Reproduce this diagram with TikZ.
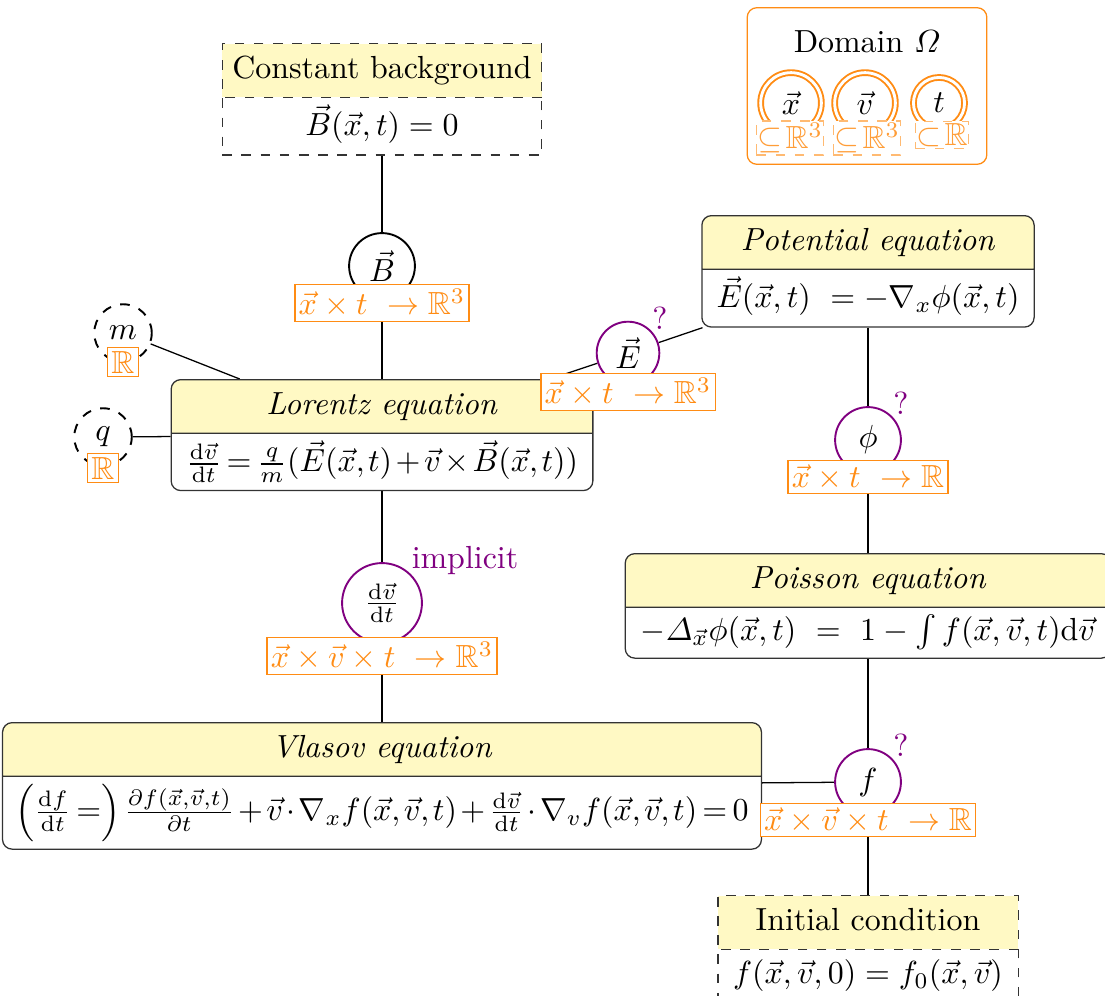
\documentclass[tikz,border=0pt]{standalone}
\usepackage{amsmath,amssymb}
\usetikzlibrary{shapes.multipart,backgrounds}
\definecolor{headyellow}{RGB}{255,249,196}
\definecolor{domorange}{RGB}{255,140,20}
\definecolor{varpurple}{RGB}{128,0,128}
\begin{document}
\begin{tikzpicture}[x=0.011cm,y=-0.011cm,
        eqbox/.style={rectangle split,rectangle split parts=2,draw=black!80,thin,
            rectangle split part fill={headyellow,white},rounded corners=3pt,
            inner xsep=4pt,inner ysep=2.2pt,anchor=north},
        tighteq/.style={execute at begin node={\medmuskip=2mu\thickmuskip=3mu\thinmuskip=2mu}},
        condbox/.style={eqbox,dashed,rounded corners=0pt},
        varnode/.style={circle,draw,semithick,fill=white,minimum size=20.6pt,inner sep=0pt},
        unkvar/.style={varnode,draw=varpurple},
        parvar/.style={varnode,dashed,minimum size=18pt},
        dom/.style={draw=domorange,fill=white,text=domorange,thin,inner sep=1.2pt},
        sub/.style={dom,draw=domorange!60,text=domorange!85,dashed,inner xsep=0.2pt,inner ysep=0.6pt},
        domvar/.style={circle,draw=domorange,double=white,double distance=0.9pt,semithick,minimum size=19pt,inner sep=0pt},
        qmark/.style={text=varpurple,inner sep=0pt}]
        \useasboundingbox (0,0) rectangle (1105,995);
        % equations
        \node[condbox] (cbg) at (382,43) {\makebox[92pt]{\strut Constant background} \nodepart{two} \strut$\vec B(\vec x,t)=0$};
        \node[eqbox,tighteq] (lorentz) at (382,379) {\makebox[124pt]{\strut\textit{Lorentz equation}} \nodepart{two} $\frac{\mathrm d\vec v}{\mathrm dt}=\frac{q}{m}(\vec E(\vec x,t)+\vec v\times\vec B(\vec x,t))$};
        \node[eqbox] (potential) at (868,215) {\makebox[96pt]{\strut\textit{Potential equation}} \nodepart{two} \strut$\vec E(\vec x,t)\ =-\nabla_x\phi(\vec x,t)$};
        \node[eqbox] (poisson) at (868,553) {\makebox[144pt]{\strut\textit{Poisson equation}} \nodepart{two} $-\varDelta_{\vec x}\phi(\vec x,t)\ =\ 1-\int f(\vec x,\vec v,t)\mathrm d\vec v$};
        \node[eqbox,tighteq] (vlasov) at (382,722) {\makebox[226pt]{\strut\textit{Vlasov equation}} \nodepart{two} $\left(\frac{\mathrm df}{\mathrm dt}=\right)\frac{\partial f(\vec x,\vec v,t)}{\partial t}+\vec v\cdot\nabla_x f(\vec x,\vec v,t)+\frac{\mathrm d\vec v}{\mathrm dt}\cdot\nabla_v f(\vec x,\vec v,t)=0$};
        \node[condbox] (initial) at (868,895) {\makebox[86pt]{\strut Initial condition} \nodepart{two} \strut$f(\vec x,\vec v,0)=f_0(\vec x,\vec v)$};
        % variables
        \node[varnode] (B) at (382,266) {$\vec B$};
        \node[dom] (Bdom) at (382,303) {$\vec x\times t\ \to\mathbb R^3$};
        \node[parvar] (m) at (123,333) {$m$};
        \node[dom] (mdom) at (123,362) {$\mathbb R$};
        \node[parvar] (q) at (103,437) {$q$};
        \node[dom] (qdom) at (103,468) {$\mathbb R$};
        \node[unkvar,minimum size=19.6pt] (E) at (628,353) {$\vec E$};
        \node[dom] (Edom) at (628,392) {$\vec x\times t\ \to\mathbb R^3$};
        \node[qmark] (Eq) at (660,318) {?};
        \node[unkvar] (phi) at (868,440) {$\phi$};
        \node[dom] (phidom) at (868,477) {$\vec x\times t\ \to\mathbb R$};
        \node[qmark] (phiq) at (901,403) {?};
        \node[unkvar,minimum size=25pt] (dv) at (382,603) {$\frac{\mathrm d\vec v}{\mathrm dt}$};
        \node[dom] (dvdom) at (382,656) {$\vec x\times\vec v\times t\ \to\mathbb R^3$};
        \node[qmark] (impl) at (465,560) {implicit};
        \node[unkvar] (f) at (868,782) {$f$};
        \node[dom] (fdom) at (868,820) {$\vec x\times\vec v\times t\ \to\mathbb R$};
        \node[qmark] (fq) at (901,745) {?};
        % domain
        \node[draw=domorange,thin,rounded corners=3pt,minimum width=75pt,minimum height=49pt] (domain) at (867,86) {};
        \node (domtitle) at (867,42) {Domain $\varOmega$};
        \node[domvar] (xd) at (791,103) {$\vec x$};
        \node[domvar] (vd) at (865,103) {$\vec v$};
        \node[domvar,minimum size=16pt] (td) at (939,103) {$t$};
        \node[sub] (xsub) at (790,138) {${\subseteq}\mkern2mu\mathbb R^3$};
        \node[sub] (vsub) at (867,138) {${\subseteq}\mkern2mu\mathbb R^3$};
        \node[sub] (tsub) at (942,135) {${\subset}\mkern2mu\mathbb R$};
        % connections
        \begin{pgfonlayer}{background}
        \draw (cbg) -- (B) -- (lorentz);
        \draw (m) -- (lorentz);
        \draw (q) -- (lorentz);
        \draw (lorentz) -- (E) -- (potential);
        \draw (potential) -- (phi) -- (poisson);
        \draw (lorentz) -- (dv) -- (vlasov);
        \draw (poisson) -- (f) -- (initial);
        \draw (vlasov) -- (f);
        \end{pgfonlayer}
        \end{tikzpicture}
\end{document}
